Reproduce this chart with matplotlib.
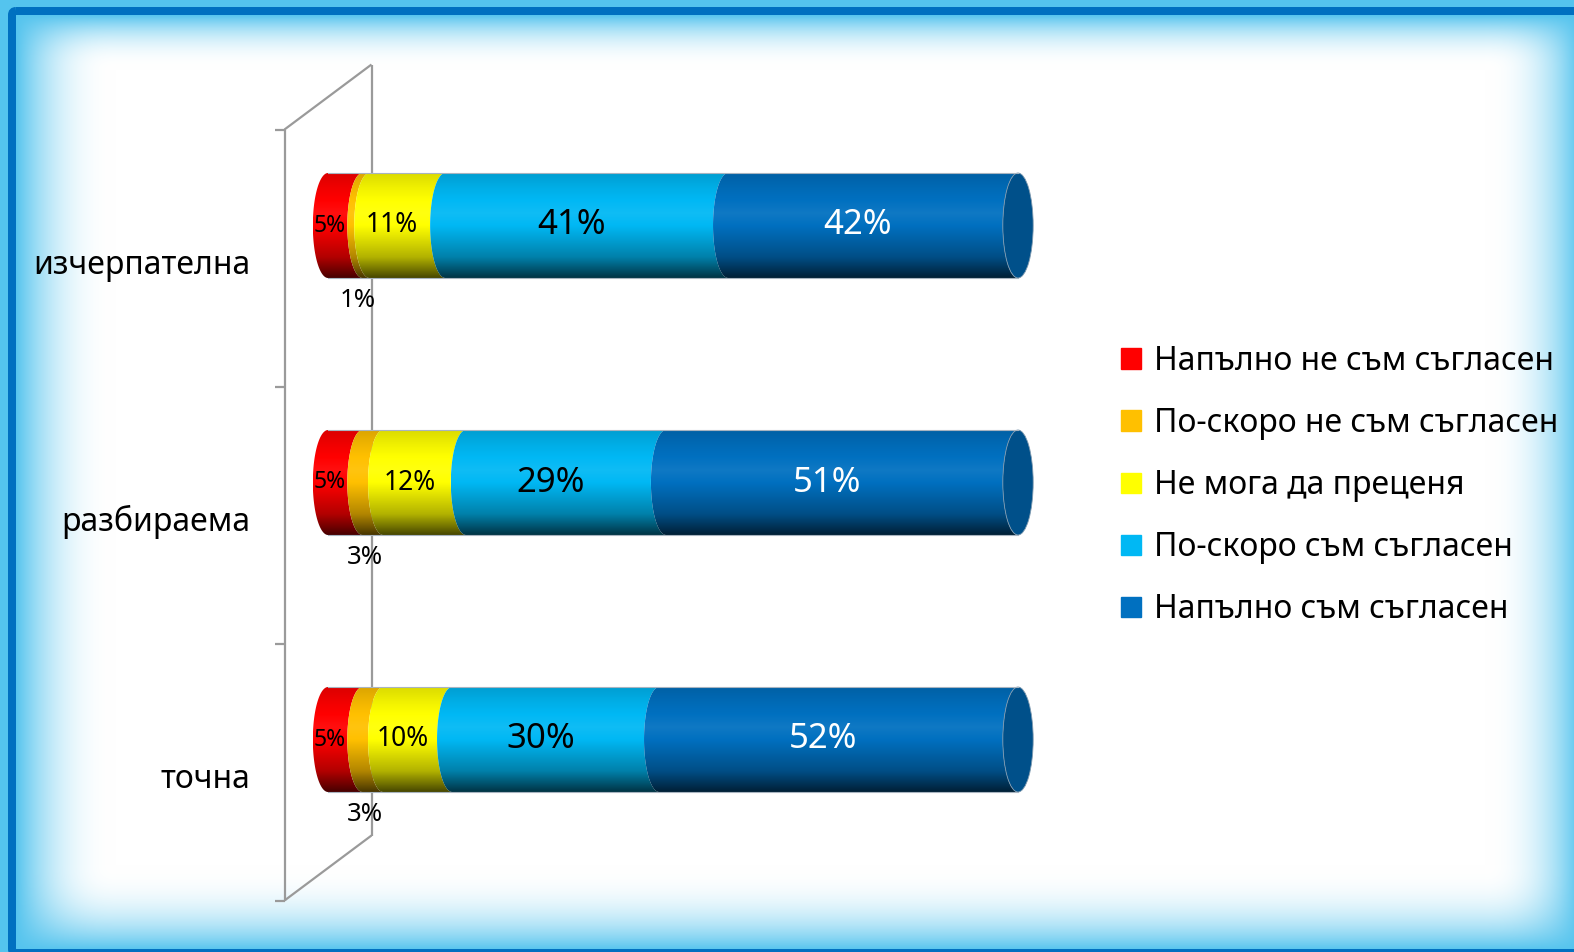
import numpy as np
import matplotlib.pyplot as plt
from matplotlib.patches import PathPatch, Ellipse, Patch, FancyBboxPatch
from matplotlib.path import Path
from matplotlib.colors import to_rgb

plt.rcParams['font.family'] = ['Noto Sans', 'DejaVu Sans']

categories = ['точна', 'разбираема', 'изчерпателна']
series = ['Напълно не съм съгласен', 'По-скоро не съм съгласен', 'Не мога да преценя',
          'По-скоро съм съгласен', 'Напълно съм съгласен']
colors = ['#FF0000', '#FFC000', '#FFFF00', '#00B8F4', '#0070C0']
label_colors = ['black', 'black', 'black', 'black', 'white']
label_sizes = [16.5, 18.5, 19, 25, 25]

# percentages, in category order (точна, разбираема, изчерпателна)
strongly_disagree = [5, 5, 5]
rather_disagree = [3, 3, 1]
cannot_judge = [10, 12, 11]
rather_agree = [30, 29, 41]
strongly_agree = [52, 51, 42]
values = [strongly_disagree, rather_disagree, cannot_judge, rather_agree, strongly_agree]

W, H, DPI = 1574, 952, 100
fig = plt.figure(figsize=(W / DPI, H / DPI), dpi=DPI)

# --- background with light blue inner glow and blue frame ---
bg = fig.add_axes([0, 0, 1, 1], zorder=0)
xx, yy = np.meshgrid(np.arange(W) + 0.5, np.arange(H) + 0.5)


def glow(d, L):
    return np.clip(1 - d / L, 0, 1) ** 2.3


I = 1 - (1 - glow(xx - 16, 100)) * (1 - glow(yy - 15, 55)) * \
    (1 - glow(1580 - xx, 95)) * (1 - glow(950 - yy, 85))
glow_col = np.array([0x55, 0xC4, 0xEE]) / 255
img = 1 - I[..., None] * (1 - glow_col)
bg.imshow(img, extent=[0, W, H, 0], aspect='auto')
bg.add_patch(FancyBboxPatch((12, 11), 1590 - 12, 953 - 11,
                            boxstyle='round,pad=0,rounding_size=4', fill=False,
                            ec='#0070C0', lw=8 * 72 / DPI, clip_on=False))
bg.set_xlim(0, W)
bg.set_ylim(H, 0)
bg.axis('off')

# --- main plot area ---
px_unit = 6.9          # pixels per percent
x0_px = 328
xmin, xmax = -5, 110
top_px, bot_px = 97, 868
cat_px = (bot_px - top_px) / 3
ax = fig.add_axes([(x0_px + xmin * px_unit) / W, (H - bot_px) / H,
                   (xmax - xmin) * px_unit / W, (bot_px - top_px) / H], zorder=1)
ax.patch.set_alpha(0)

# 3D wall (front/back planes offset from the bar plane)
ux = 43.5 / px_unit
uy = 32.5 / cat_px
wall = dict(color='#9a9a9a', lw=1.6, clip_on=False, solid_capstyle='butt')
ax.plot([-ux, -ux], [-0.5 - uy, 2.5 - uy], **wall)
ax.plot([ux, ux], [-0.5 + uy, 2.5 + uy], **wall)
ax.plot([-ux, ux], [2.5 - uy, 2.5 + uy], **wall)
ax.plot([-ux, ux], [-0.5 - uy, -0.5 + uy], **wall)
for yt in np.arange(-0.5, 3, 1):
    ax.plot([-ux - 10 / px_unit, -ux], [yt - uy, yt - uy], **wall)

# --- cylinders ---
ew = 2.2    # half width of the end ellipse (in percent units)
bh = 105 / cat_px
t = np.linspace(0, 1, 200)
knots_t = [0, 0.08, 0.2, 0.5, 0.62, 0.85, 1.0]
knots_f = [0.28, 0.45, 0.7, 1.0, 1.06, 0.95, 0.86]
prof = np.interp(t, knots_t, knots_f)


def shade(c):
    c = np.array(to_rgb(c))
    out = np.where(prof[:, None] <= 1, c * prof[:, None],
                   c + (1 - c) * (prof[:, None] - 1))
    return np.clip(out, 0, 1)[:, None, :]


th = np.linspace(np.pi / 2, 3 * np.pi / 2, 60)

for i, cat in enumerate(categories):
    yc = i
    top, bot = yc + bh / 2, yc - bh / 2
    left = 0
    for k in range(len(series)):
        v = values[k][i]
        right = left + v
        xs = np.concatenate([[left, right], right + ew * np.cos(th), [left],
                             left + ew * np.cos(th[::-1])])
        ys = np.concatenate([[top, top], yc + bh / 2 * np.sin(th), [bot],
                             yc + bh / 2 * np.sin(th[::-1])])
        patch = PathPatch(Path(np.column_stack([xs, ys])), fc='none', ec='none')
        ax.add_patch(patch)
        im = ax.imshow(shade(colors[k]), extent=[left - ew, right, bot, top],
                       origin='lower', aspect='auto', interpolation='bilinear', zorder=2)
        im.set_clip_path(patch)

        # data labels
        if v < 4:
            ax.text((left + right) / 2 - ew + 1.0, bot - 0.04, f'{v}%', ha='center', va='top',
                    fontsize=label_sizes[k], color=label_colors[k], zorder=5)
        else:
            ax.text((left + right) / 2 - ew, yc, f'{v}%', ha='center', va='center',
                    fontsize=label_sizes[k], color=label_colors[k], zorder=5)
        left = right

    # right end cap
    ax.add_patch(Ellipse((left, yc), 2 * ew, bh, fc='#00508A', ec='#7f9ab0', lw=0.6, zorder=3))
    ax.plot([0, left], [top, top], color='#a8b4c0', lw=0.8, zorder=3)
    ax.plot([0, left], [bot, bot], color='#a8b4c0', lw=0.8, zorder=3)

    # category label on the front plane
    ax.text(-78 / px_unit, yc - uy - 7 / cat_px, cat, ha='right', va='center', fontsize=23)

ax.set_xlim(xmin, xmax)
ax.set_ylim(-0.5, 2.5)
ax.axis('off')

handles = [Patch(color=c) for c in colors]
fig.legend(handles, series, loc='upper left', bbox_to_anchor=(1121 / W, 1 - 345 / H),
           frameon=False, fontsize=23, handlelength=0.62, handleheight=0.62,
           handletextpad=0.4, labelspacing=0.91, borderaxespad=0, borderpad=0)

fig.savefig('out.png', dpi=DPI)
